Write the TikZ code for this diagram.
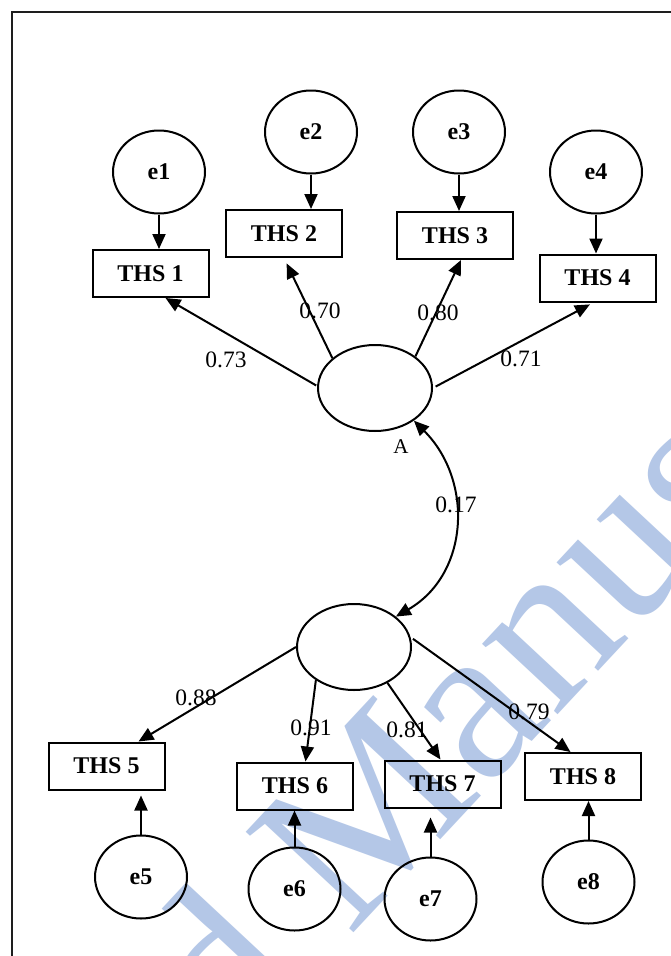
\documentclass[tikz,border=0pt]{standalone}
\usepackage{fontspec}
\setmainfont{Liberation Serif}
\usetikzlibrary{arrows.meta,shapes.geometric,calc}
\definecolor{wmblue}{RGB}{180,199,231}
\definecolor{framegray}{RGB}{30,30,30}
\begin{document}
\begin{tikzpicture}[x=1pt,y=-1pt,
  obs/.style={draw,line width=2pt,minimum width=116pt,minimum height=47pt,inner sep=0pt,
    font=\fontsize{24}{24}\selectfont\bfseries},
  err/.style={draw,ellipse,line width=2pt,minimum width=92pt,minimum height=83pt,inner sep=0pt,
    font=\fontsize{24}{24}\selectfont\bfseries},
  lat/.style={draw,ellipse,line width=2pt,minimum width=114pt,minimum height=86pt,inner sep=0pt},
  conn/.style={line width=2pt,-{Triangle[length=15pt,width=13pt]}},
  coef/.style={font=\fontsize{23.5}{23.5}\selectfont,inner sep=0pt},
]
\useasboundingbox (0,0) rectangle (670,956);
\fill[white] (0,0) rectangle (670,956);

% watermark
\begin{scope}
\clip (0,0) rectangle (670,956);
\node[rotate=47,text=wmblue,font=\fontsize{225}{225}\selectfont,anchor=base,inner sep=0pt]
  (wm) at (390,894) {Accepted Manuscript};
\end{scope}

% frame
\draw[framegray,line width=2pt] (12,960) -- (12,12) -- (674,12);

% latent variables
\node[lat] (A) at (375,388) {};
\node[lat] (B) at (354,647) {};
\node[font=\fontsize{21}{21}\selectfont,inner sep=0pt] (Alab) at (401,447) {A};

% indicators of A
\node[obs] (t1) at (150.5,273.5) {THS 1};
\node[obs] (t2) at (284,233.5) {THS 2};
\node[obs] (t3) at (455,235.5) {THS 3};
\node[obs] (t4) at (597.5,278) {THS 4};

% indicators of B
\node[obs] (t5) at (106.5,766) {THS 5};
\node[obs] (t6) at (295,786) {THS 6};
\node[obs] (t7) at (442.5,784) {THS 7};
\node[obs] (t8) at (583,776.5) {THS 8};

% error terms
\node[err] (e1) at (159,172) {e1};
\node[err] (e2) at (311,132) {e2};
\node[err] (e3) at (459,132) {e3};
\node[err] (e4) at (596,172) {e4};
\node[err] (e5) at (141,877) {e5};
\node[err] (e6) at (294.5,889) {e6};
\node[err] (e7) at (430.5,899) {e7};
\node[err] (e8) at (588.5,882) {e8};

% error -> indicator
\draw[conn] (e1.south) -- (e1.south |- t1.north);
\draw[conn] (e2.south) -- (e2.south |- t2.north);
\draw[conn] (e3.south) -- (e3.south |- t3.north);
\draw[conn] (e4.south) -- (e4.south |- t4.north);
\draw[conn,shorten >=5pt] (e5.north) -- (e5.north |- t5.south);
\draw[conn] (e6.north) -- (e6.north |- t6.south);
\draw[conn,shorten >=9pt] (e7.north) -- (e7.north |- t7.south);
\draw[conn] (e8.north) -- (e8.north |- t8.south);

% loadings of A
\draw[conn,shorten <=1pt] (A.178) -- ($(t1.south)+(15,0)$);
\draw[conn,shorten >=6pt] (A.145) -- (t2.south);
\draw[conn] (A.38) -- ($(t3.south)+(6,0)$);
\draw[conn,shorten <=3pt,shorten >=4pt] (A.east) -- ($(t4.south)+(-4,0)$);

% loadings of B
\draw[conn] (B.west) -- ($(t5.north)+(32,0)$);
\draw[conn] (B.-139) -- ($(t6.north)+(10.5,0)$);
\draw[conn] (B.-47) -- ($(t7.north)+(-2,0)$);
\draw[conn,shorten <=3pt] (B.10) -- ($(t8.north)+(-12.5,0)$);

% covariance between the two factors
\draw[line width=2pt,{Triangle[length=15pt,width=13pt]}-{Triangle[length=15pt,width=13pt]}]
  (A.-40) to[out=-45,in=30,looseness=1.1] (B.36);

% coefficients
\node[coef] (c1) at (226,360) {0.73};
\node[coef] (c2) at (320,311) {0.70};
\node[coef] (c3) at (438,313) {0.80};
\node[coef] (c4) at (521,359) {0.71};
\node[coef] (c0) at (456,505) {0.17};
\node[coef] (c5) at (196,698) {0.88};
\node[coef] (c6) at (311,728) {0.91};
\node[coef] (c7) at (407,730) {0.81};
\node[coef] (c8) at (529,712) {0.79};
\end{tikzpicture}
\end{document}
